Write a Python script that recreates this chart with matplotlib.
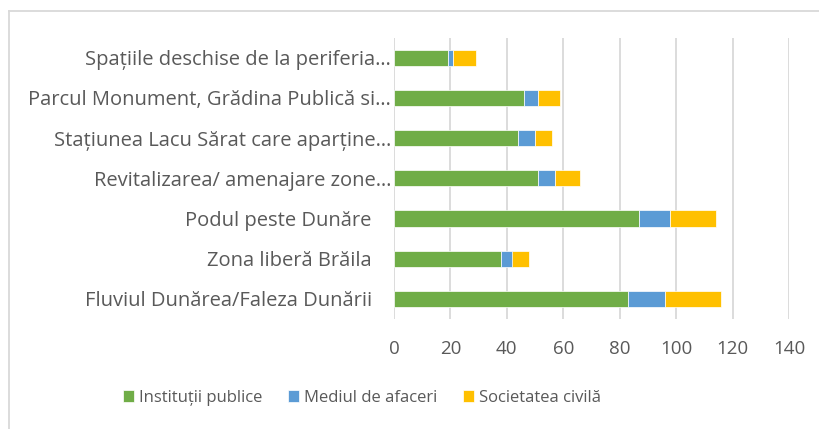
import matplotlib.pyplot as plt
from matplotlib.lines import Line2D

plt.rcParams['font.family'] = ['Open Sans', 'DejaVu Sans']

categories = [
    "Fluviul Dunărea/Faleza Dunării",
    "Zona liberă Brăila",
    "Podul peste Dunăre",
    "Revitalizarea/ amenajare zone…",
    "Stațiunea Lacu Sărat care aparține…",
    "Parcul Monument, Grădina Publică si…",
    "Spațiile deschise de la periferia…",
]
institutii = [83, 38, 87, 51, 44, 46, 19]
afaceri = [13, 4, 11, 6, 6, 5, 2]
societate = [20, 6, 16, 9, 6, 8, 8]
truncated = [False, False, False, True, True, True, True]

text_col = '#595959'
grid_col = '#d9d9d9'

fig = plt.figure(figsize=(8.2, 4.29), dpi=100)
ax = fig.add_axes([394 / 820, 1 - 319 / 429, (789 - 394) / 820, (319 - 37.7) / 429])

y = list(range(len(categories)))
left2 = [a + b for a, b in zip(institutii, afaceri)]
ax.barh(y, institutii, height=0.4, color='#70AD47', edgecolor='white', linewidth=0.5,
        label='Instituții publice', zorder=3)
ax.barh(y, afaceri, left=institutii, height=0.4, color='#5B9BD5', edgecolor='white',
        linewidth=0.5, label='Mediul de afaceri', zorder=3)
ax.barh(y, societate, left=left2, height=0.4, color='#FFC000', edgecolor='white',
        linewidth=0.5, label='Societatea civilă', zorder=3)

ax.set_xlim(0, 140)
ax.set_ylim(-0.5, len(categories) - 0.5)
ax.set_xticks(range(0, 141, 20))
ax.set_yticks(y)
ax.set_yticklabels(categories)
ax.tick_params(axis='x', length=0, pad=15, labelsize=13.5, labelcolor=text_col)
ax.tick_params(axis='y', length=0, labelsize=14.5, labelcolor=text_col)
for tick, tr in zip(ax.yaxis.get_major_ticks(), truncated):
    tick.set_pad(2 if tr else 16)

ax.grid(axis='x', color=grid_col, linewidth=1.3, zorder=0)
for s in ax.spines.values():
    s.set_visible(False)

# chart border (cropped)
fig.add_artist(Line2D([8.5 / 820, 8.5 / 820], [0, 1 - 10.5 / 429], color=grid_col, linewidth=1.3))
fig.add_artist(Line2D([8.5 / 820, 1], [1 - 10.5 / 429, 1 - 10.5 / 429], color=grid_col, linewidth=1.3))

leg = fig.legend(loc='center', bbox_to_anchor=(362 / 820, 1 - 398 / 429), ncol=3,
                 frameon=False, fontsize=12, handlelength=0.7, handleheight=0.7,
                 handletextpad=0.3, columnspacing=1.5)
for t in leg.get_texts():
    t.set_color(text_col)

fig.savefig('out.png', dpi=100)
